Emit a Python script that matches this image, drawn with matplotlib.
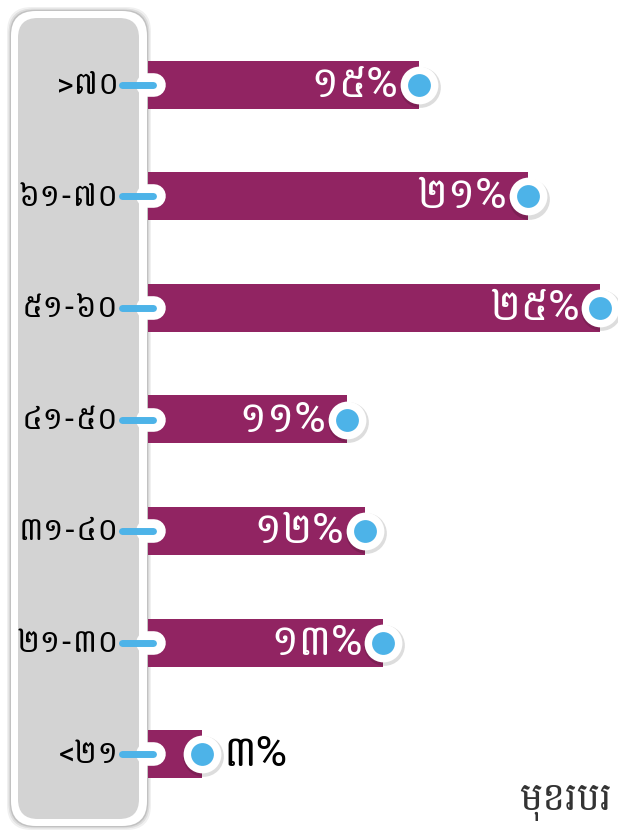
import matplotlib
matplotlib.use("Agg")
import matplotlib.pyplot as plt
from matplotlib.patches import FancyBboxPatch

plt.rcParams['font.family'] = ['Battambang', 'DejaVu Sans']

# data (top to bottom)
groups = [">៧០", "៦១-៧០", "៥១-៦០", "៤១-៥០", "៣១-៤០", "២១-៣០", "<២១"]
values = [15, 21, 25, 11, 12, 13, 3]
value_labels = ["១៥%", "២១%", "២៥%", "១១%", "១២%", "១៣%", "៣%"]
title = "មុខរបរ"

bar_color = "#912462"
dot_color = "#4DB3E8"
panel_color = "#D3D3D3"

W, H = 618, 830
fig = plt.figure(figsize=(W / 100, H / 100), dpi=100)
fig.patch.set_facecolor("white")

# left grey panel with white rim and soft shadow
for grow, a in [(4, 0.06), (2.5, 0.08), (1.2, 0.12)]:
    sh = FancyBboxPatch(((11 - grow) / W, (4 - grow) / H),
                        (136 + 2 * grow) / W, (815 + 2 * grow) / H,
                        boxstyle="round,pad=0,rounding_size=0.04",
                        transform=fig.transFigure, fc=(0, 0, 0, a), ec="none",
                        mutation_aspect=W / H)
    fig.patches.append(sh)
rim = FancyBboxPatch((11 / W, 4 / H), 136 / W, 815 / H,
                     boxstyle="round,pad=0,rounding_size=0.04",
                     transform=fig.transFigure, fc="white", ec="none",
                     mutation_aspect=W / H)
fig.patches.append(rim)
panel = FancyBboxPatch((18 / W, 11 / H), 121 / W, 801 / H,
                       boxstyle="round,pad=0,rounding_size=0.032",
                       transform=fig.transFigure, fc=panel_color, ec="none",
                       mutation_aspect=W / H)
fig.patches.append(panel)

# axes: x in percent, zero at pixel 148
px_per_pct = 18.08
left = 148
ax = fig.add_axes([left / W, 0, 1 - left / W, 1])
ax.set_zorder(3)
ax.set_xlim(0, (W - left) / px_per_pct)
step = 111.5
y0 = 85
ax.set_ylim((H - y0) / step, -y0 / step)
ax.axis("off")
ax.patch.set_alpha(0)

ypos = list(range(len(groups)))
ax.barh(ypos, values, height=48 / step, color=bar_color, zorder=2)

# shadow + white ring + blue dot at the bar end
ax.scatter([v + 0.06 for v in values], [y + 0.02 for y in ypos], s=860,
           color="#00000022", zorder=3, linewidths=0)
ax.scatter(values, ypos, s=740, color="white", zorder=4, linewidths=0)
ax.scatter(values, ypos, s=270, color=dot_color, zorder=5, linewidths=0)

for y, v, lab in zip(ypos, values, value_labels):
    if v >= 5:
        ax.annotate(lab, (v, y), xytext=(-15, 0), textcoords="offset points",
                    ha="right", va="center", color="white", fontsize=31,
                    zorder=6)
    else:
        ax.annotate(lab, (v, y), xytext=(15, 0), textcoords="offset points",
                    ha="left", va="center", color="black", fontsize=31,
                    zorder=6)

# ticks on the panel edge and category labels
for y, g in zip(ypos, groups):
    ax.plot([0.0, 0.35], [y, y], color="white", lw=17, solid_capstyle="round",
            zorder=6, clip_on=False)
    ax.plot([-26 / px_per_pct, 0.25], [y, y], color=dot_color, lw=5,
            solid_capstyle="round", zorder=7, clip_on=False)
    ax.annotate(g, (0, y), xytext=(-21, 0), textcoords="offset points",
                ha="right", va="center", color="black", fontsize=23,
                zorder=7, annotation_clip=False)

fig.text(612 / W, 1 - 802 / H, title, ha="right", va="center", fontsize=28,
         color="#333333")

fig.savefig("out.png", dpi=100)
